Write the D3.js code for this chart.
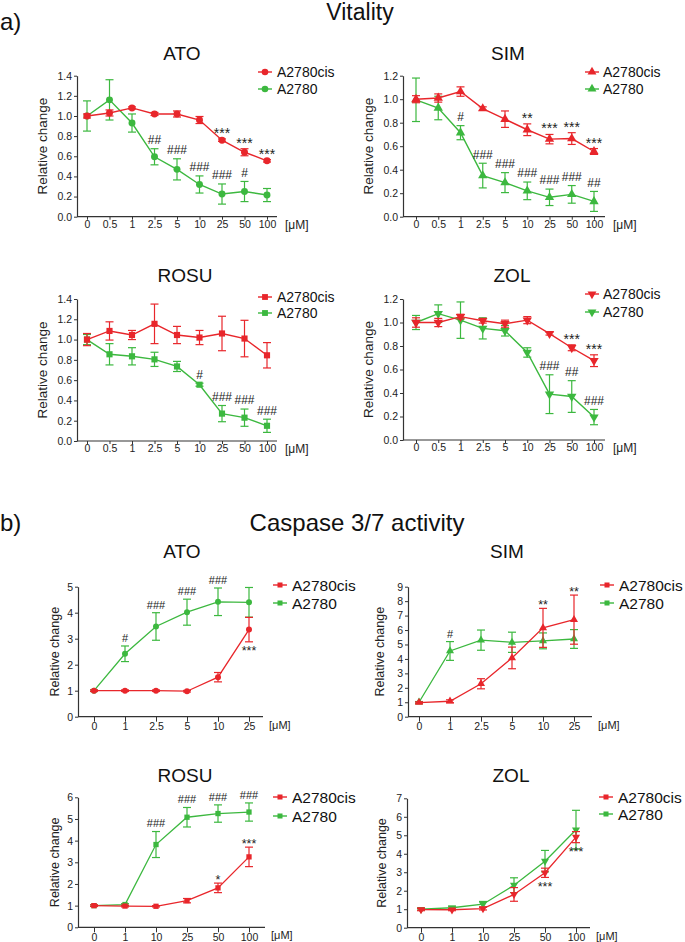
<!DOCTYPE html>
<html>
<head>
<meta charset="utf-8">
<script src="https://cdn.jsdelivr.net/npm/d3@7"></script>
<style>
body { margin: 0; background: #fff; }
svg text { font-family: "Liberation Sans", Arial, sans-serif; fill: #111; }
</style>
</head>
<body>
<svg id="fig" width="685" height="942"></svg>
<script>

// ---- data ----
var seriesNames = ["A2780cis", "A2780"];

var vitDoses = ["0", "0.5", "1", "2.5", "5", "10", "25", "50", "100"];
var casDosesStatin = ["0", "1", "2.5", "5", "10", "25"];
var casDosesOther = ["0", "1", "10", "25", "50", "100"];

// vitality, ATO
var vitAtoCis = [1.00, 1.03, 1.08, 1.02, 1.02, 0.96, 0.76, 0.64, 0.555];
var vitAtoCisErr = [0.02, 0.03, 0.01, 0.015, 0.03, 0.035, 0.012, 0.035, 0.012];
var vitAtoWt = [1.00, 1.16, 0.93, 0.595, 0.47, 0.32, 0.225, 0.25, 0.215];
var vitAtoWtErr = [0.15, 0.20, 0.09, 0.08, 0.105, 0.085, 0.10, 0.10, 0.065];
var vitAtoCisMarks = ["", "", "", "", "", "", "***", "***", "***"];
var vitAtoWtMarks = ["", "", "", "##", "###", "###", "###", "#", ""];

// vitality, SIM
var vitSimCis = [1.00, 1.01, 1.065, 0.92, 0.83, 0.74, 0.66, 0.665, 0.555];
var vitSimCisErr = [0.03, 0.035, 0.04, 0.015, 0.07, 0.05, 0.04, 0.05, 0.025];
var vitSimWt = [0.995, 0.925, 0.715, 0.35, 0.29, 0.22, 0.165, 0.19, 0.13];
var vitSimWtErr = [0.185, 0.10, 0.06, 0.105, 0.085, 0.075, 0.07, 0.075, 0.085];
var vitSimCisMarks = ["", "", "", "", "", "**", "***", "***", "***"];
var vitSimWtMarks = ["", "", "#", "###", "###", "###", "###", "###", "##"];

// vitality, ROSU
var vitRosCis = [1.00, 1.085, 1.045, 1.155, 1.045, 1.02, 1.06, 1.01, 0.845];
var vitRosCisErr = [0.06, 0.09, 0.045, 0.195, 0.085, 0.07, 0.17, 0.18, 0.125];
var vitRosWt = [1.00, 0.855, 0.835, 0.805, 0.735, 0.555, 0.27, 0.23, 0.15];
var vitRosWtErr = [0.05, 0.105, 0.085, 0.07, 0.05, 0.015, 0.08, 0.085, 0.065];
var vitRosCisMarks = ["", "", "", "", "", "", "", "", ""];
var vitRosWtMarks = ["", "", "", "", "", "#", "###", "###", "###"];

// vitality, ZOL
var vitZolCis = [1.00, 1.00, 1.05, 1.015, 0.99, 1.02, 0.905, 0.785, 0.675];
var vitZolCisErr = [0.04, 0.035, 0.02, 0.02, 0.03, 0.03, 0.012, 0.025, 0.05];
var vitZolWt = [1.00, 1.075, 1.02, 0.95, 0.93, 0.745, 0.39, 0.37, 0.195];
var vitZolWtErr = [0.06, 0.075, 0.155, 0.09, 0.045, 0.04, 0.165, 0.135, 0.065];
var vitZolCisMarks = ["", "", "", "", "", "", "", "***", "***"];
var vitZolWtMarks = ["", "", "", "", "", "", "###", "##", "###"];

// caspase 3/7, ATO
var casAtoCis = [1.0, 1.0, 1.0, 0.98, 1.52, 3.35];
var casAtoCisErr = [0.03, 0.03, 0.03, 0.03, 0.18, 0.47];
var casAtoWt = [1.0, 2.42, 3.47, 4.02, 4.42, 4.40];
var casAtoWtErr = [0.03, 0.30, 0.53, 0.50, 0.53, 0.57];
var casAtoCisMarks = ["", "", "", "", "", "***"];
var casAtoWtMarks = ["", "#", "###", "###", "###", ""];

// caspase 3/7, SIM
var casSimCis = [0.98, 1.07, 2.28, 4.07, 6.15, 6.72];
var casSimCisErr = [0.05, 0.10, 0.35, 0.75, 1.35, 1.70];
var casSimWt = [1.0, 4.55, 5.30, 5.15, 5.25, 5.38];
var casSimWtErr = [0.05, 0.65, 0.70, 0.70, 0.55, 0.65];
var casSimCisMarks = ["", "", "", "", "**", "**"];
var casSimWtMarks = ["", "#", "", "", "", ""];

// caspase 3/7, ROSU
var casRosCis = [1.0, 0.98, 0.97, 1.23, 1.82, 3.25];
var casRosCisErr = [0.04, 0.04, 0.03, 0.10, 0.22, 0.45];
var casRosWt = [1.0, 1.05, 3.82, 5.08, 5.25, 5.32];
var casRosWtErr = [0.03, 0.04, 0.60, 0.45, 0.40, 0.42];
var casRosCisMarks = ["", "", "", "", "*", "***"];
var casRosWtMarks = ["", "", "###", "###", "###", "###"];

// caspase 3/7, ZOL
var casZolCis = [0.98, 0.97, 1.03, 1.80, 2.97, 4.90];
var casZolCisErr = [0.06, 0.05, 0.07, 0.37, 0.25, 0.30];
var casZolWt = [1.0, 1.08, 1.27, 2.30, 3.60, 5.30];
var casZolWtErr = [0.04, 0.08, 0.15, 0.40, 0.58, 1.05];
var casZolCisMarks = ["", "", "", "", "***", "***"];
var casZolWtMarks = ["", "", "", "", "", ""];

// ---- drawing ----
var RED = "#e8262b";
var GREEN = "#3cb83f";
var AXIS = "#333";

var svg = d3.select("#fig");

// group styles: a) vitality, b) caspase
var styleA = { tickFont: 10.5, xTickSize: 3, xPad: 1, labelFont: 13.5, titleFont: 19, legFont: 14,
        hashFont: 12, starFont: 14, gapHash: 9, gapStar: 9, markSize: 38, fmt: ".1f", step: 0.2,
        lineW: 1.4, unitGap: 8, unitFont: 12, unitDrop: 8 };
var styleB = { tickFont: 10.5, xTickSize: 5, xPad: 1, labelFont: 12.5, titleFont: 19, legFont: 15.5,
        hashFont: 11, starFont: 12.5, gapHash: 8, gapStar: 6, markSize: 28, fmt: "d", step: 1,
        lineW: 1.3, unitGap: 6, unitFont: 11, unitDrop: 8 };

var panels = [
        { title: "ATO", doses: vitDoses, cis: vitAtoCis, cisErr: vitAtoCisErr, wt: vitAtoWt, wtErr: vitAtoWtErr,
          cisMarks: vitAtoCisMarks, wtMarks: vitAtoWtMarks, cisSide: "above", shape: "circle", legShape: "circle",
          yMax: 1.4, l: 77, r: 277, t: 75.7, b: 216.7, padL: 10, padR: 10,
          tx: 182, ty: 60, lmx: 265, ltx: 277, lrows: [72, 89], ylx: 42, s: styleA },
        { title: "SIM", doses: vitDoses, cis: vitSimCis, cisErr: vitSimCisErr, wt: vitSimWt, wtErr: vitSimWtErr,
          cisMarks: vitSimCisMarks, wtMarks: vitSimWtMarks, cisSide: "above", shape: "up", legShape: "up",
          yMax: 1.2, l: 403, r: 605, t: 75.7, b: 216.7, padL: 13, padR: 11,
          tx: 508, ty: 60, lmx: 592, ltx: 603, lrows: [72, 89], ylx: 368, s: styleA },
        { title: "ROSU", doses: vitDoses, cis: vitRosCis, cisErr: vitRosCisErr, wt: vitRosWt, wtErr: vitRosWtErr,
          cisMarks: vitRosCisMarks, wtMarks: vitRosWtMarks, cisSide: "above", shape: "square", legShape: "square",
          yMax: 1.4, l: 77, r: 277, t: 299, b: 441, padL: 10, padR: 10,
          tx: 185, ty: 282, lmx: 265, ltx: 277, lrows: [297, 313], ylx: 42, s: styleA },
        { title: "ZOL", doses: vitDoses, cis: vitZolCis, cisErr: vitZolCisErr, wt: vitZolWt, wtErr: vitZolWtErr,
          cisMarks: vitZolCisMarks, wtMarks: vitZolWtMarks, cisSide: "above", shape: "down", legShape: "down",
          yMax: 1.2, l: 403, r: 605, t: 299, b: 440, padL: 13, padR: 11,
          tx: 512, ty: 282, lmx: 592, ltx: 603, lrows: [294, 312], ylx: 368, s: styleA },
        { title: "ATO", doses: casDosesStatin, cis: casAtoCis, cisErr: casAtoCisErr, wt: casAtoWt, wtErr: casAtoWtErr,
          cisMarks: casAtoCisMarks, wtMarks: casAtoWtMarks, cisSide: "below", shape: "circle", legShape: "square",
          yMax: 5, l: 78, r: 263, t: 586.7, b: 716.7, padL: 16, padR: 14,
          tx: 182, ty: 558, lmx: 280, ltx: 292, lrows: [585, 603], ylx: 55, s: styleB },
        { title: "SIM", doses: casDosesStatin, cis: casSimCis, cisErr: casSimCisErr, wt: casSimWt, wtErr: casSimWtErr,
          cisMarks: casSimCisMarks, wtMarks: casSimWtMarks, cisSide: "above", shape: "up", legShape: "square",
          yMax: 9, l: 408, r: 592, t: 586.7, b: 716.7, padL: 11, padR: 18,
          tx: 507, ty: 558, lmx: 607, ltx: 619, lrows: [585, 603], ylx: 380, s: styleB },
        { title: "ROSU", doses: casDosesOther, cis: casRosCis, cisErr: casRosCisErr, wt: casRosWt, wtErr: casRosWtErr,
          cisMarks: casRosCisMarks, wtMarks: casRosWtMarks, cisSide: "above", shape: "square", legShape: "square",
          yMax: 6, l: 78, r: 265, t: 797.3, b: 927.3, padL: 16, padR: 16,
          tx: 185, ty: 782, lmx: 280, ltx: 292, lrows: [797, 816], ylx: 55, s: styleB },
        { title: "ZOL", doses: casDosesOther, cis: casZolCis, cisErr: casZolCisErr, wt: casZolWt, wtErr: casZolWtErr,
          cisMarks: casZolCisMarks, wtMarks: casZolWtMarks, cisSide: "below", shape: "down", legShape: "square",
          yMax: 7, l: 407, r: 590, t: 798.3, b: 927.7, padL: 14, padR: 14,
          tx: 511, ty: 782, lmx: 606, ltx: 618, lrows: [797, 814], ylx: 382, s: styleB }
];

function symbolPath(shape, size) {
        var type = d3.symbolCircle;
        if (shape == "square") {
                type = d3.symbolSquare;
        } else if (shape == "up" || shape == "down") {
                type = d3.symbolTriangle;
        }
        return d3.symbol().type(type).size(size)();
}

function drawMarker(g, cx, cy, shape, size, color) {
        var rot = shape == "down" ? " rotate(180)" : "";
        g.append("path")
                .attr("d", symbolPath(shape, size))
                .attr("transform", "translate(" + cx + "," + cy + ")" + rot)
                .attr("fill", color);
}

function drawSeries(g, p, x, y, vals, errs, color) {
        var line = d3.line()
                .x(function(d, i) { return x(p.doses[i]); })
                .y(function(d) { return y(d); });

        g.append("path")
                .datum(vals)
                .attr("d", line)
                .attr("fill", "none")
                .attr("stroke", color)
                .attr("stroke-width", p.s.lineW);

        for (var i = 0; i < vals.length; i++) {
                var cx = x(p.doses[i]);
                var y1 = y(vals[i] + errs[i]);
                var y2 = y(vals[i] - errs[i]);
                g.append("line").attr("x1", cx).attr("x2", cx).attr("y1", y1).attr("y2", y2)
                        .attr("stroke", color).attr("stroke-width", 1.2);
                g.append("line").attr("x1", cx - 4).attr("x2", cx + 4).attr("y1", y1).attr("y2", y1)
                        .attr("stroke", color).attr("stroke-width", 1.2);
                g.append("line").attr("x1", cx - 4).attr("x2", cx + 4).attr("y1", y2).attr("y2", y2)
                        .attr("stroke", color).attr("stroke-width", 1.2);
        }

        for (var k = 0; k < vals.length; k++) {
                drawMarker(g, x(p.doses[k]), y(vals[k]), p.shape, p.s.markSize, color);
        }
}

function drawMarks(g, p, x, y, vals, errs, marks, side) {
        for (var i = 0; i < marks.length; i++) {
                if (!marks[i]) continue;
                var star = marks[i].charAt(0) == "*";
                var fs = star ? p.s.starFont : p.s.hashFont;
                var lift = star ? 0.57 * fs : 0.36 * fs;
                var c;
                if (side == "below") {
                        c = y(vals[i] - errs[i]) + 6;
                } else {
                        c = y(vals[i] + errs[i]) - (star ? p.s.gapStar : p.s.gapHash);
                }
                g.append("text")
                        .attr("x", x(p.doses[i]))
                        .attr("y", c + lift)
                        .attr("text-anchor", "middle")
                        .style("font-size", fs + "px")
                        .style("fill", "#222")
                        .text(marks[i]);
        }
}

function drawPanel(p) {
        var g = svg.append("g");
        var s = p.s;

        var x = d3.scalePoint().domain(p.doses).range([p.l + p.padL, p.r - p.padR]);
        var y = d3.scaleLinear().domain([0, p.yMax]).range([p.b, p.t]);

        var yTicks = d3.range(0, p.yMax + s.step / 2, s.step);

        g.append("g")
                .attr("transform", "translate(" + p.l + ",0)")
                .call(d3.axisLeft(y).tickValues(yTicks).tickFormat(d3.format(s.fmt))
                        .tickSize(3).tickSizeOuter(0).tickPadding(2));

        var xa = g.append("g")
                .attr("transform", "translate(0," + p.b + ")")
                .call(d3.axisBottom(x).tickSize(s.xTickSize).tickSizeOuter(0).tickPadding(s.xPad));
        xa.select(".domain").remove();
        xa.append("line")
                .attr("x1", p.l).attr("x2", p.r).attr("y1", 0).attr("y2", 0)
                .attr("stroke", AXIS).attr("stroke-width", 1.2);

        g.selectAll(".domain").attr("stroke", AXIS).attr("stroke-width", 1.2);
        g.selectAll(".tick line").attr("stroke", AXIS).attr("stroke-width", 1);
        g.selectAll(".tick text")
                .style("font-size", s.tickFont + "px")
                .style("font-family", "'Liberation Sans', Arial, sans-serif")
                .style("fill", "#222");

        // unit label at the end of the x axis
        g.append("text")
                .attr("x", p.r + s.unitGap)
                .attr("y", p.b + s.unitDrop)
                .attr("dy", "0.35em")
                .style("font-size", s.unitFont + "px")
                .style("fill", "#222")
                .text("[\u03bcM]");

        // y label
        g.append("text")
                .attr("transform", "translate(" + p.ylx + "," + ((p.t + p.b) / 2) + ") rotate(-90)")
                .attr("text-anchor", "middle")
                .attr("dy", "0.35em")
                .style("font-size", s.labelFont + "px")
                .style("fill", "#222")
                .text("Relative change");

        // title
        g.append("text")
                .attr("x", p.tx).attr("y", p.ty)
                .attr("text-anchor", "middle")
                .style("font-size", s.titleFont + "px")
                .text(p.title);

        // A2780 first, A2780cis over it
        drawSeries(g, p, x, y, p.wt, p.wtErr, GREEN);
        drawSeries(g, p, x, y, p.cis, p.cisErr, RED);
        drawMarks(g, p, x, y, p.wt, p.wtErr, p.wtMarks, "above");
        drawMarks(g, p, x, y, p.cis, p.cisErr, p.cisMarks, p.cisSide);

        // legend
        var colors = [RED, GREEN];
        for (var i = 0; i < seriesNames.length; i++) {
                var ly = p.lrows[i];
                g.append("line")
                        .attr("x1", p.lmx - 7).attr("x2", p.lmx + 7).attr("y1", ly).attr("y2", ly)
                        .attr("stroke", colors[i]).attr("stroke-width", 1.4);
                drawMarker(g, p.lmx, ly, p.legShape, s.markSize * 0.9, colors[i]);
                g.append("text")
                        .attr("x", p.ltx).attr("y", ly)
                        .attr("dy", "0.36em")
                        .style("font-size", s.legFont + "px")
                        .text(seriesNames[i]);
        }
}

function drawHeadings() {
        svg.append("text").attr("x", 0).attr("y", 30).style("font-size", "24px").text("a)");
        svg.append("text").attr("x", 360).attr("y", 20).attr("text-anchor", "middle")
                .style("font-size", "23px").text("Vitality");
        svg.append("text").attr("x", 0).attr("y", 531).style("font-size", "24px").text("b)");
        svg.append("text").attr("x", 357).attr("y", 531).attr("text-anchor", "middle")
                .style("font-size", "24px").text("Caspase 3/7 activity");
}

drawHeadings();
panels.forEach(drawPanel);

</script>
</body>
</html>
